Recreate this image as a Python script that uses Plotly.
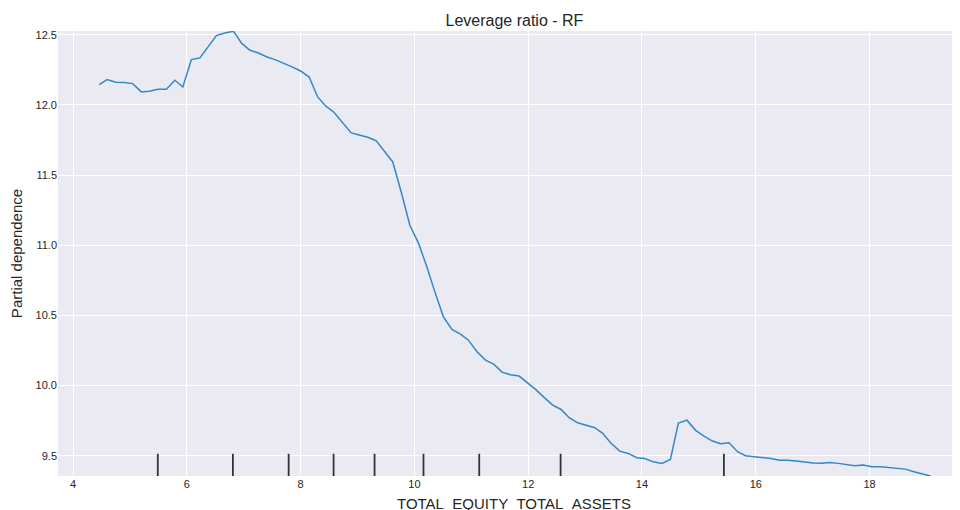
import plotly.graph_objects as go

# grid values of TOTAL_EQUITY_TOTAL_ASSETS
grid_x = [4.46, 4.60, 4.75, 4.90, 5.05, 5.20, 5.34, 5.49, 5.64, 5.79,
          5.93, 6.08, 6.23, 6.38, 6.52, 6.67, 6.82, 6.97, 7.11, 7.26,
          7.41, 7.56, 7.70, 7.85, 8.00, 8.15, 8.30, 8.44, 8.59, 8.74,
          8.89, 9.03, 9.18, 9.33, 9.48, 9.62, 9.77, 9.92, 10.07, 10.21,
          10.36, 10.51, 10.66, 10.81, 10.95, 11.10, 11.25, 11.40, 11.54, 11.69,
          11.84, 11.99, 12.13, 12.28, 12.43, 12.58, 12.72, 12.87, 13.02, 13.17,
          13.31, 13.46, 13.61, 13.76, 13.91, 14.05, 14.20, 14.35, 14.50, 14.64,
          14.79, 14.94, 15.09, 15.23, 15.38, 15.53, 15.68, 15.82, 15.97, 16.12,
          16.27, 16.42, 16.56, 16.71, 16.86, 17.01, 17.15, 17.30, 17.45, 17.60,
          17.74, 17.89, 18.04, 18.19, 18.33, 18.48, 18.63, 18.78, 18.93, 19.07]

# partial dependence values
pd_values = [12.145, 12.181, 12.162, 12.160, 12.152, 12.093, 12.098, 12.112, 12.112, 12.176,
             12.128, 12.323, 12.335, 12.418, 12.494, 12.513, 12.525, 12.437, 12.390, 12.370,
             12.342, 12.321, 12.299, 12.271, 12.242, 12.199, 12.057, 11.993, 11.946, 11.872,
             11.801, 11.786, 11.770, 11.744, 11.670, 11.594, 11.378, 11.143, 11.017, 10.858,
             10.668, 10.490, 10.400, 10.367, 10.324, 10.241, 10.182, 10.151, 10.096, 10.077,
             10.068, 10.020, 9.973, 9.916, 9.861, 9.830, 9.771, 9.735, 9.719, 9.700,
             9.660, 9.588, 9.533, 9.517, 9.486, 9.481, 9.457, 9.446, 9.474, 9.733,
             9.754, 9.683, 9.640, 9.607, 9.586, 9.593, 9.529, 9.500, 9.493, 9.489,
             9.481, 9.469, 9.469, 9.462, 9.453, 9.448, 9.446, 9.453, 9.446, 9.439,
             9.429, 9.434, 9.422, 9.422, 9.415, 9.410, 9.405, 9.386, 9.370, 9.356]

# deciles of the feature (rug marks)
deciles = [5.49, 6.81, 7.79, 8.58, 9.30, 10.16, 11.14, 12.57, 15.44]

x_ticks = [4, 6, 8, 10, 12, 14, 16, 18]
y_ticks = [9.5, 10.0, 10.5, 11.0, 11.5, 12.0, 12.5]

fig = go.Figure()

fig.add_trace(go.Scatter(
    x=grid_x, y=pd_values,
    mode="lines",
    line=dict(color="#3587c5", width=1.5),
    showlegend=False,
    hoverinfo="x+y"
))

# decile ticks at bottom of the axes
for d in deciles:
    fig.add_shape(type="line", xref="x", yref="y domain",
                  x0=d, x1=d, y0=0, y1=0.05,
                  line=dict(color="#333333", width=1.8))

# page body keeps an 8px margin, so the figure is 8px smaller each way
fig.update_layout(
    width=952, height=502,
    margin=dict(l=50, r=0, t=23, b=34, autoexpand=False),
    paper_bgcolor="white",
    plot_bgcolor="#EAEAF2",
    font=dict(family="Liberation Sans, Arial, sans-serif", color="#262626", size=11),
    title=dict(text="Leverage ratio - RF", x=0.532, xanchor="center",
               y=0.976, yanchor="middle", font=dict(size=16, color="#262626")),
    xaxis=dict(range=[3.736, 19.59], tickvals=x_ticks, showgrid=True,
               gridcolor="white", gridwidth=1, zeroline=False, showline=False,
               ticks="", ticklen=0, tickfont=dict(size=11, color="#262626")),
    yaxis=dict(range=[9.356, 12.527], tickvals=y_ticks, tickformat=".1f",
               showgrid=True, gridcolor="white", gridwidth=1, zeroline=False,
               showline=False, ticks="", ticklen=0,
               tickfont=dict(size=11, color="#262626"),
               title=dict(text="Partial dependence", standoff=9,
                          font=dict(size=15, color="#262626"))),
    annotations=[dict(text="TOTAL_EQUITY_TOTAL_ASSETS", xref="paper", yref="paper",
                      x=0.506, y=-0.061, xanchor="center", yanchor="middle",
                      showarrow=False, font=dict(size=15, color="#262626"))]
)

fig.write_html("out.html")
